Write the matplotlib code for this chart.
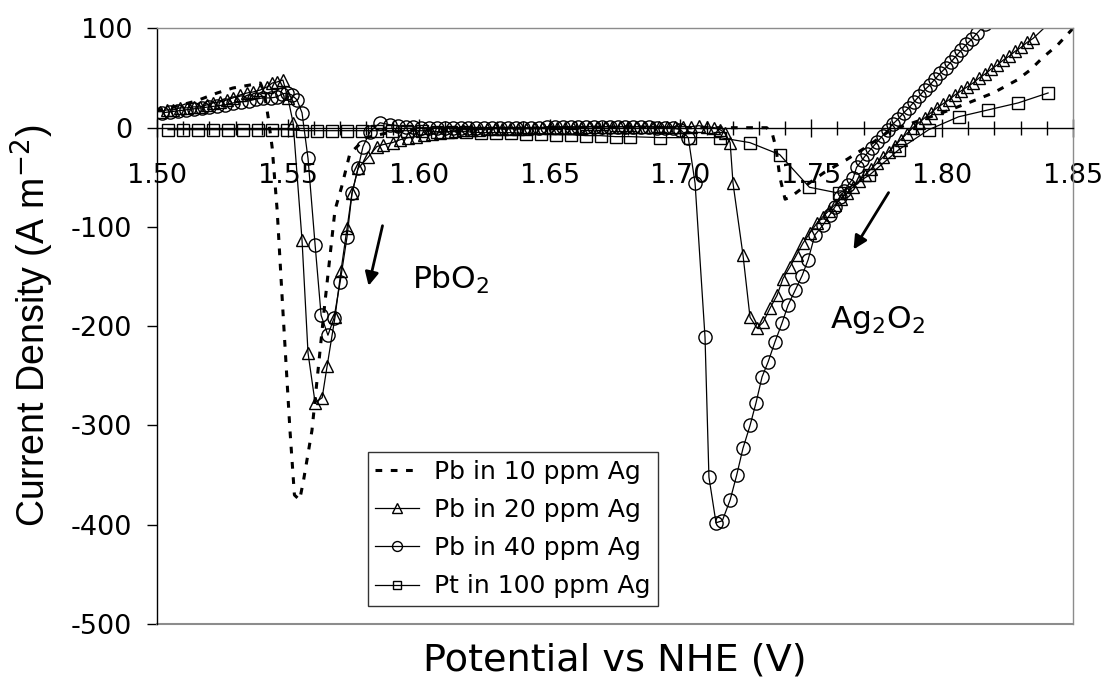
import matplotlib
matplotlib.use('Agg')
import matplotlib.pyplot as plt
from matplotlib.ticker import MultipleLocator, FormatStrFormatter

plt.rcParams['axes.unicode_minus'] = False

# Pb in 10 ppm Ag (reverse sweep, high -> low potential)
pot_10 = [1.8500, 1.8440, 1.8386, 1.8336, 1.8286, 1.8195, 1.8100, 1.8000, 1.7900, 1.7800,
          1.7713, 1.7636, 1.7550, 1.7480, 1.7420, 1.7400, 1.7380, 1.7365, 1.7350, 1.7330,
          1.7200, 1.7000, 1.6800, 1.6500, 1.6200, 1.6000, 1.5900, 1.5800, 1.5737, 1.5705,
          1.5680, 1.5640, 1.5592, 1.5560, 1.5545, 1.5525, 1.5508, 1.5480, 1.5459, 1.5440,
          1.5425, 1.5410, 1.5395, 1.5355, 1.5290, 1.5230, 1.5150, 1.5080, 1.5000]
cur_10 = [100, 83, 71, 58, 48, 35, 25, 15, 6, -3,
          -19, -32, -45, -58, -70, -72, -50, -20, -5, 0,
          0, 0, 1, 0, -1, -2, -4, -10, -26, -60,
          -83, -180, -305, -355, -375, -370, -305, -180, -83, -20,
          10, 35, 45, 43, 40, 35, 27, 22, 17]

# Pb in 20 ppm Ag
pot_20 = [1.8420, 1.8348, 1.8325, 1.8302, 1.8279, 1.8256, 1.8233, 1.8210, 1.8187, 1.8164,
          1.8141, 1.8118, 1.8095, 1.8072, 1.8049, 1.8026, 1.8003, 1.7980, 1.7957, 1.7934,
          1.7911, 1.7888, 1.7865, 1.7842, 1.7819, 1.7796, 1.7773, 1.7750, 1.7727, 1.7704,
          1.7681, 1.7658, 1.7635, 1.7612, 1.7589, 1.7566, 1.7543, 1.7522, 1.7495, 1.7469,
          1.7444, 1.7419, 1.7392, 1.7369, 1.7342, 1.7316, 1.7293, 1.7266, 1.7239, 1.7201,
          1.7190, 1.7170, 1.7151, 1.7130, 1.7100, 1.7070, 1.7040, 1.7010, 1.6980, 1.6950,
          1.6920, 1.6890, 1.6860, 1.6830, 1.6800, 1.6770, 1.6740, 1.6710, 1.6680, 1.6650,
          1.6620, 1.6590, 1.6560, 1.6530, 1.6500, 1.6470, 1.6440, 1.6410, 1.6380, 1.6350,
          1.6320, 1.6290, 1.6260, 1.6230, 1.6200, 1.6170, 1.6140, 1.6110, 1.6080, 1.6050,
          1.6020, 1.5990, 1.5960, 1.5930, 1.5900, 1.5864, 1.5840, 1.5806, 1.5768, 1.5745,
          1.5726, 1.5703, 1.5680, 1.5650, 1.5631, 1.5604, 1.5577, 1.5554, 1.5520, 1.5500,
          1.5481, 1.5458, 1.5440, 1.5420, 1.5394, 1.5367, 1.5344, 1.5317, 1.5290, 1.5268,
          1.5240, 1.5214, 1.5190, 1.5164, 1.5140, 1.5115, 1.5088, 1.5061, 1.5038, 1.5011]
cur_20 = [108, 90, 86, 81, 77, 72, 68, 63, 59, 54,
          50, 45, 41, 37, 33, 28, 24, 20, 15, 10,
          5, 0, -6, -12, -18, -24, -30, -36, -42, -48,
          -54, -60, -66, -72, -78, -84, -90, -96, -106, -116,
          -128, -140, -152, -169, -182, -196, -202, -191, -128, -56,
          -15, -5, -2, 0, 1, 2, 1, 1, 1, 1,
          1, 1, 1, 1, 1, 1, 1, 1, 1, 1,
          0, 0, 0, 0, 0, 0, 0, -1, -1, -1,
          -1, -1, -1, -2, -2, -2, -3, -4, -5, -6,
          -7, -9, -10, -12, -15, -17, -19, -30, -41, -66,
          -101, -144, -191, -240, -272, -277, -227, -113, 5, 30,
          48, 46, 45, 41, 38, 36, 35, 33, 30, 28,
          26, 25, 23, 21, 21, 20, 20, 18, 18, 16]

# Pb in 40 ppm Ag
pot_40 = [1.8165, 1.8133, 1.8113, 1.8093, 1.8073, 1.8053, 1.8033, 1.8013, 1.7993, 1.7973,
          1.7953, 1.7933, 1.7913, 1.7893, 1.7873, 1.7853, 1.7833, 1.7813, 1.7793, 1.7773,
          1.7753, 1.7733, 1.7713, 1.7693, 1.7673, 1.7660, 1.7640, 1.7625, 1.7610, 1.7590,
          1.7570, 1.7545, 1.7514, 1.7488, 1.7465, 1.7438, 1.7411, 1.7388, 1.7361, 1.7335,
          1.7312, 1.7289, 1.7266, 1.7239, 1.7215, 1.7190, 1.7160, 1.7136, 1.7109, 1.7094,
          1.7056, 1.7030, 1.7000, 1.6970, 1.6940, 1.6910, 1.6880, 1.6850, 1.6820, 1.6790,
          1.6760, 1.6730, 1.6700, 1.6670, 1.6640, 1.6610, 1.6580, 1.6550, 1.6520, 1.6490,
          1.6460, 1.6430, 1.6400, 1.6370, 1.6340, 1.6310, 1.6280, 1.6250, 1.6220, 1.6190,
          1.6160, 1.6130, 1.6100, 1.6070, 1.6040, 1.6010, 1.5980, 1.5950, 1.5920, 1.5890,
          1.5852, 1.5814, 1.5787, 1.5768, 1.5745, 1.5726, 1.5700, 1.5676, 1.5653, 1.5627,
          1.5604, 1.5577, 1.5554, 1.5535, 1.5515, 1.5497, 1.5478, 1.5458, 1.5435, 1.5405,
          1.5380, 1.5350, 1.5320, 1.5290, 1.5260, 1.5230, 1.5200, 1.5170, 1.5140, 1.5110,
          1.5080, 1.5050, 1.5020]
cur_40 = [104, 95, 89, 84, 78, 72, 66, 60, 55, 49,
          43, 38, 32, 26, 20, 15, 9, 4, -2, -8,
          -14, -20, -26, -33, -40, -51, -58, -64, -70, -80,
          -88, -98, -108, -133, -149, -164, -179, -197, -216, -236,
          -251, -277, -300, -323, -350, -375, -396, -398, -352, -211,
          -56, -10, -2, 0, 0, 0, 1, 1, 1, 1,
          1, 1, 1, 1, 1, 1, 1, 1, 1, 1,
          0, 0, 0, 0, 0, 0, 0, 0, 0, 0,
          0, 0, 0, 0, 0, 0, 1, 1, 2, 3,
          5, -4, -19, -41, -66, -110, -155, -192, -209, -189,
          -118, -31, 15, 28, 33, 35, 34, 31, 30, 30,
          29, 27, 26, 25, 23, 22, 21, 20, 19, 18,
          17, 16, 15]

# Pt in 100 ppm Ag
pot_pt = [1.8405, 1.8291, 1.8177, 1.8063, 1.7949, 1.7835, 1.7721, 1.7607, 1.7493, 1.7379,
          1.7265, 1.7151, 1.7037, 1.6923, 1.6809, 1.6752, 1.6695, 1.6638, 1.6581, 1.6524,
          1.6467, 1.6410, 1.6353, 1.6296, 1.6239, 1.6182, 1.6125, 1.6068, 1.6011, 1.5954,
          1.5897, 1.5840, 1.5783, 1.5726, 1.5669, 1.5612, 1.5555, 1.5498, 1.5441, 1.5384,
          1.5327, 1.5270, 1.5213, 1.5156, 1.5099, 1.5042]
cur_pt = [35, 25, 18, 11, -2, -22, -48, -66, -60, -27,
          -15, -10, -10, -10, -9, -9, -8, -8, -7, -7,
          -6, -6, -5, -5, -5, -4, -4, -4, -3, -3,
          -3, -3, -3, -3, -3, -3, -3, -2, -2, -2,
          -2, -2, -2, -2, -2, -2]

labels = ['Pb in 10 ppm Ag', 'Pb in 20 ppm Ag', 'Pb in 40 ppm Ag', 'Pt in 100 ppm Ag']

fig = plt.figure(figsize=(11.09, 6.82), dpi=100)
ax = fig.add_axes([0.1416, 0.085, 0.8259, 0.8733])

ax.plot(pot_10, cur_10, color='black', lw=2.2, linestyle=(0, (2.2, 2.8)), label=labels[0])
ax.plot(pot_20, cur_20, color='black', lw=0.9, marker='^', ms=9, mfc='none', mec='black',
        mew=1.0, label=labels[1])
ax.plot(pot_40, cur_40, color='black', lw=0.9, marker='o', ms=9.5, mfc='none', mec='black',
        mew=1.0, label=labels[2])
ax.plot(pot_pt, cur_pt, color='black', lw=0.9, marker='s', ms=8.5, mfc='none', mec='black',
        mew=1.0, label=labels[3])

ax.set_xlim(1.50, 1.85)
ax.set_ylim(-500, 100)
ax.xaxis.set_major_locator(MultipleLocator(0.05))
ax.xaxis.set_minor_locator(MultipleLocator(0.01))
ax.xaxis.set_major_formatter(FormatStrFormatter('%.2f'))
ax.yaxis.set_major_locator(MultipleLocator(100))

ax.spines['bottom'].set_position(('data', 0))
ax.spines['bottom'].set_linewidth(1.0)
ax.spines['left'].set_linewidth(1.0)
for s in ['top', 'right']:
    ax.spines[s].set_color('#8c8c8c')
    ax.spines[s].set_linewidth(1.0)
ax.axhline(-500, color='#8c8c8c', lw=1.5, clip_on=False)

ax.tick_params(axis='x', which='major', direction='inout', length=13, width=1,
               labelsize=19.5, pad=19)
ax.tick_params(axis='x', which='minor', direction='inout', length=10, width=1)
ax.tick_params(axis='y', which='major', direction='out', length=7, width=1,
               labelsize=19.5, pad=11)

ax.set_xlabel('Potential vs NHE (V)', fontsize=27.5, va='center')
ax.xaxis.set_label_coords(0.5, -0.062)
ax.set_ylabel('Current Density (A m$^{-2}$)', fontsize=27, family='Liberation Sans')
ax.yaxis.set_label_coords(-0.110, 0.5)

ax.annotate('', xy=(1.5806, -162), xytext=(1.5864, -96),
            arrowprops=dict(arrowstyle='-|>', lw=2, color='black', mutation_scale=20))
ax.annotate('', xy=(1.7656, -125), xytext=(1.7801, -63),
            arrowprops=dict(arrowstyle='-|>', lw=2, color='black', mutation_scale=20))
ax.text(1.5974, -162, 'PbO$_2$', fontsize=22.5, ha='left', va='baseline')
ax.text(1.7572, -202, 'Ag$_2$O$_2$', fontsize=22.5, ha='left', va='baseline')

leg = ax.legend(loc='upper left', bbox_to_anchor=(0.2303, 0.2888), borderaxespad=0,
                fontsize=18, frameon=True, fancybox=False, edgecolor='black',
                handlelength=1.75, handletextpad=0.6, labelspacing=0.57,
                borderpad=0.3, markerscale=0.75)
leg.get_frame().set_linewidth(1.0)

fig.savefig('out.png', dpi=100)
